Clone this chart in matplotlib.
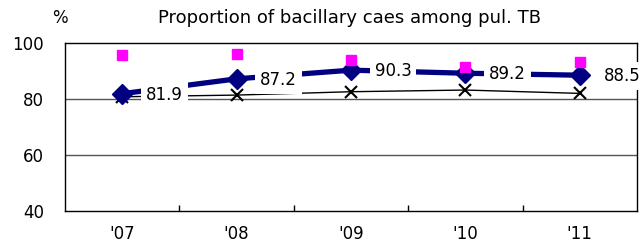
import matplotlib
matplotlib.use("Agg")
import matplotlib.pyplot as plt

years = ["'07", "'08", "'09", "'10", "'11"]
proportion = [81.9, 87.2, 90.3, 89.2, 88.5]
magenta_vals = [95.7, 96.1, 93.9, 91.5, 93.3]
cross_vals = [80.8, 81.4, 82.6, 83.2, 82.0]
yticks = [40, 60, 80, 100]

plt.rcParams['font.family'] = ['DejaVu Sans']
fig = plt.figure(figsize=(6.41, 2.49), dpi=100)
ax = fig.add_axes([65/641, 1-211/249, 572/641, 168/249])

x = list(range(len(years)))
ax.plot(x, cross_vals, color='black', lw=1.0, marker='x', ms=9, mew=1.5, zorder=3)
ax.plot(x, proportion, color='#000080', lw=3.8, marker='D', ms=10, zorder=4)
ax.plot(x, magenta_vals, ls='none', color='#FF00FF', marker='s', ms=7.5, zorder=5)

for xi, v in zip(x, proportion):
    ax.annotate(f"{v:.1f}", (xi, v), xytext=(42, -1), textcoords='offset pixels',
                ha='center', va='center', fontsize=12,
                bbox=dict(boxstyle='square,pad=0.3', fc='white', ec='none'), zorder=6)

ax.set_ylim(40, 100)
ax.set_xlim(-0.5, len(years) - 0.5)
ax.set_yticks(yticks)
ax.set_yticklabels([str(t) for t in yticks], fontsize=12)
ax.tick_params(axis='y', length=0, pad=15)
for t in [60, 80]:
    ax.axhline(t, color='#555555', lw=1.0, zorder=1)

ax.set_xticks(x)
ax.set_xticklabels(years, fontsize=12)
ax.set_xticks([i + 0.5 for i in range(len(years) - 1)], minor=True)
ax.tick_params(axis='x', which='major', length=0, pad=10)
ax.tick_params(axis='x', which='minor', length=4, direction='in', width=1)
for s in ax.spines.values():
    s.set_color('black')
    s.set_linewidth(1.0)

fig.text(350/641, 1-18/249, "Proportion of bacillary caes among pul. TB", ha='center', va='center', fontsize=13)
fig.text(60/641, 1-18/249, "%", ha='center', va='center', fontsize=12)

fig.savefig("out.png", dpi=100)
